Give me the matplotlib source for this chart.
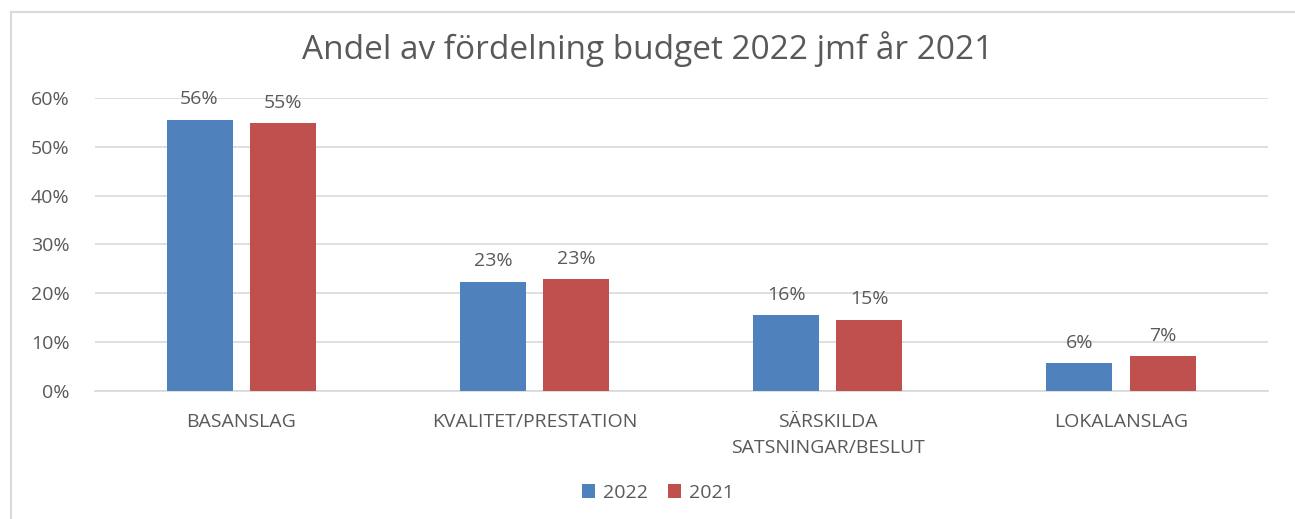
import matplotlib
matplotlib.use("Agg")
import matplotlib.pyplot as plt
from matplotlib.lines import Line2D
import numpy as np

kategorier = ["BASANSLAG", "KVALITET/PRESTATION", "SÄRSKILDA\nSATSNINGAR/BESLUT", "LOKALANSLAG"]
andel_2022 = [0.556, 0.224, 0.156, 0.056]
andel_2021 = [0.549, 0.229, 0.146, 0.071]
etiketter_2022 = ["56%", "23%", "16%", "6%"]
etiketter_2021 = ["55%", "23%", "15%", "7%"]
yticks = [0, 0.1, 0.2, 0.3, 0.4, 0.5, 0.6]

BLA = "#4F81BD"
ROD = "#C0504D"
GRA = "#595959"

plt.rcParams["font.family"] = ["Open Sans", "DejaVu Sans"]

fig = plt.figure(figsize=(12.95, 5.19), dpi=100)
ax = fig.add_axes([0.073, 0.247, 0.906, 0.564])

x = np.arange(len(kategorier))
b = 0.225
off = 0.142
stap1 = ax.bar(x - off, andel_2022, b, color=BLA, label="2022", zorder=3)
stap2 = ax.bar(x + off, andel_2021, b, color=ROD, label="2021", zorder=3)

for staplar, etiketter in [(stap1, etiketter_2022), (stap2, etiketter_2021)]:
    for rect, txt in zip(staplar, etiketter):
        ax.annotate(txt, (rect.get_x() + rect.get_width() / 2, rect.get_height()),
                    xytext=(0, 14.5), textcoords="offset points", ha="center", va="center",
                    fontsize=14, color=GRA)

ax.set_xlim(-0.5, 3.5)
ax.set_ylim(0, 0.6)
ax.set_yticks(yticks)
ax.set_yticklabels([f"{int(round(v * 100))}%" for v in yticks])
ax.set_xticks(x)
ax.set_xticklabels(kategorier, linespacing=1.55)
ax.tick_params(axis="both", length=0, colors=GRA, labelsize=14)
ax.tick_params(axis="y", pad=18)
ax.tick_params(axis="x", pad=16)
ax.grid(axis="y", color="#D9D9D9", linewidth=1.2, zorder=0)
for s in ["top", "right", "left"]:
    ax.spines[s].set_visible(False)
ax.spines["bottom"].set_color("#D9D9D9")
ax.spines["bottom"].set_linewidth(1.2)

fig.suptitle("Andel av fördelning budget 2022 jmf år 2021", fontsize=24,
             color=GRA, x=0.5, y=0.94)

fig.legend(loc="center", bbox_to_anchor=(0.508, 0.05), ncol=2, frameon=False,
           fontsize=14, labelcolor=GRA, handlelength=0.7, handleheight=0.7,
           handletextpad=0.4, columnspacing=1.0)

# ram runt diagrammet (vänster och överkant)
fig.add_artist(Line2D([11 / 1295, 11 / 1295], [0, 1 - 12 / 519],
                      transform=fig.transFigure, color="#D9D9D9", linewidth=1.5))
fig.add_artist(Line2D([11 / 1295, 1], [1 - 12 / 519, 1 - 12 / 519],
                      transform=fig.transFigure, color="#D9D9D9", linewidth=1.5))

fig.savefig("out.png", dpi=100)
